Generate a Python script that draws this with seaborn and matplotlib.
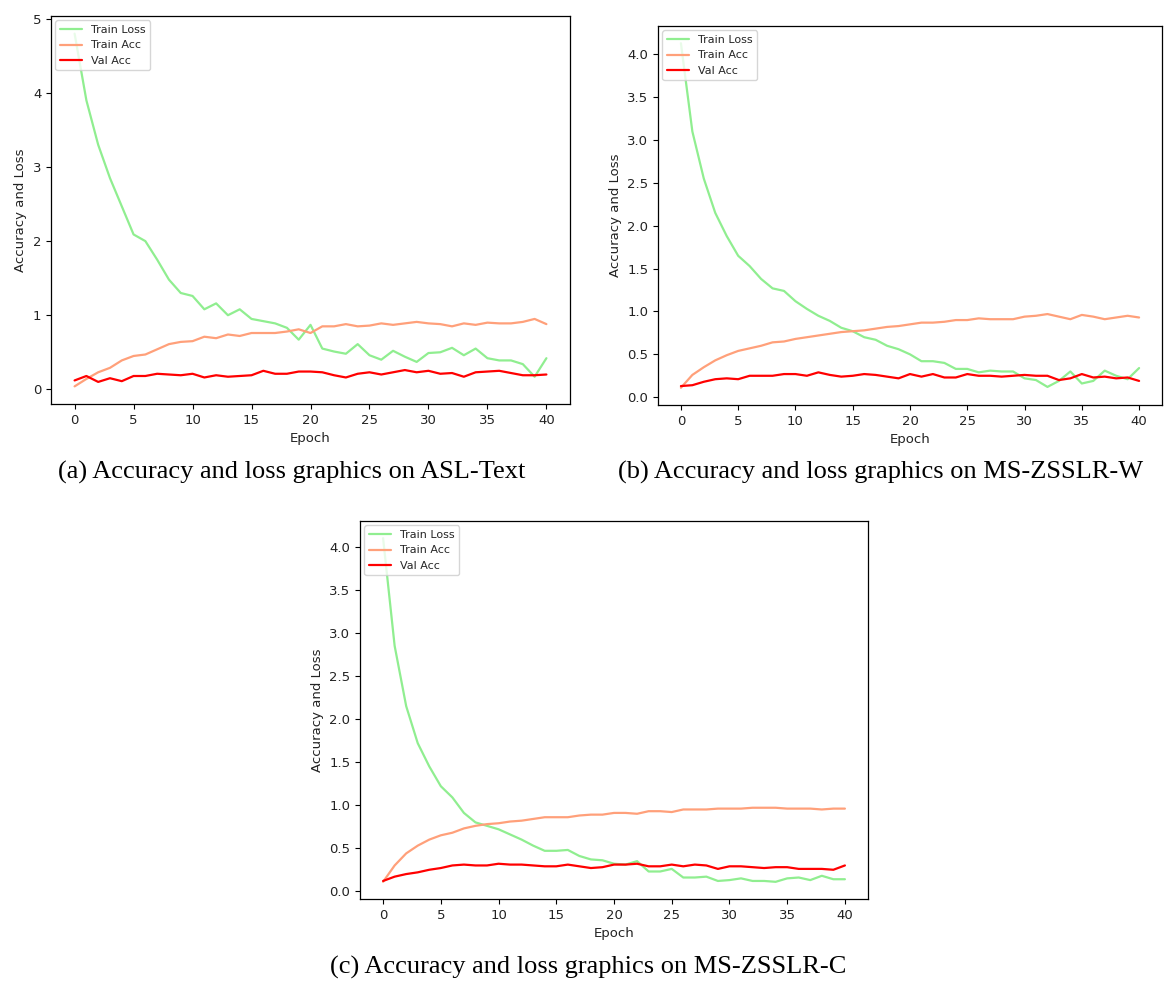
import numpy as np
import matplotlib
matplotlib.use("Agg")
import matplotlib.pyplot as plt
import seaborn as sns

epochs = list(range(41))

# (a) ASL-Text
asl_train_loss = [4.80, 3.90, 3.30, 2.85, 2.47, 2.09, 2.00, 1.75, 1.48, 1.30, 1.26,
                  1.08, 1.16, 1.00, 1.08, 0.95, 0.92, 0.89, 0.83, 0.67, 0.87,
                  0.55, 0.51, 0.48, 0.61, 0.46, 0.40, 0.52, 0.44, 0.37, 0.49,
                  0.50, 0.56, 0.46, 0.55, 0.42, 0.39, 0.39, 0.34, 0.17, 0.42]
asl_train_acc = [0.04, 0.14, 0.23, 0.29, 0.39, 0.45, 0.47, 0.54, 0.61, 0.64, 0.65,
                 0.71, 0.69, 0.74, 0.72, 0.76, 0.76, 0.76, 0.78, 0.81, 0.76,
                 0.85, 0.85, 0.88, 0.85, 0.86, 0.89, 0.87, 0.89, 0.91, 0.89,
                 0.88, 0.85, 0.89, 0.87, 0.90, 0.89, 0.89, 0.91, 0.95, 0.88]
asl_val_acc = [0.12, 0.18, 0.10, 0.15, 0.11, 0.18, 0.18, 0.21, 0.20, 0.19, 0.21,
               0.16, 0.19, 0.17, 0.18, 0.19, 0.25, 0.21, 0.21, 0.24, 0.24,
               0.23, 0.19, 0.16, 0.21, 0.23, 0.20, 0.23, 0.26, 0.23, 0.25,
               0.21, 0.22, 0.17, 0.23, 0.24, 0.25, 0.22, 0.19, 0.19, 0.20]

# (b) MS-ZSSLR-W
msw_train_loss = [4.13, 3.10, 2.55, 2.15, 1.88, 1.65, 1.53, 1.38, 1.27, 1.24, 1.12,
                  1.03, 0.95, 0.89, 0.81, 0.77, 0.70, 0.67, 0.60, 0.56, 0.50,
                  0.42, 0.42, 0.40, 0.33, 0.33, 0.29, 0.31, 0.30, 0.30, 0.22,
                  0.20, 0.12, 0.19, 0.30, 0.16, 0.19, 0.31, 0.25, 0.21, 0.34]
msw_train_acc = [0.11, 0.26, 0.35, 0.43, 0.49, 0.54, 0.57, 0.60, 0.64, 0.65, 0.68,
                 0.70, 0.72, 0.74, 0.76, 0.77, 0.78, 0.80, 0.82, 0.83, 0.85,
                 0.87, 0.87, 0.88, 0.90, 0.90, 0.92, 0.91, 0.91, 0.91, 0.94,
                 0.95, 0.97, 0.94, 0.91, 0.96, 0.94, 0.91, 0.93, 0.95, 0.93]
msw_val_acc = [0.13, 0.14, 0.18, 0.21, 0.22, 0.21, 0.25, 0.25, 0.25, 0.27, 0.27,
               0.25, 0.29, 0.26, 0.24, 0.25, 0.27, 0.26, 0.24, 0.22, 0.27,
               0.24, 0.27, 0.23, 0.23, 0.27, 0.25, 0.25, 0.24, 0.25, 0.26,
               0.25, 0.25, 0.20, 0.22, 0.27, 0.23, 0.24, 0.22, 0.23, 0.19]

# (c) MS-ZSSLR-C
msc_train_loss = [4.10, 2.85, 2.15, 1.72, 1.45, 1.22, 1.09, 0.91, 0.80, 0.76, 0.72,
                  0.66, 0.60, 0.53, 0.47, 0.47, 0.48, 0.41, 0.37, 0.36, 0.32,
                  0.31, 0.35, 0.23, 0.23, 0.26, 0.16, 0.16, 0.17, 0.12, 0.13,
                  0.15, 0.12, 0.12, 0.11, 0.15, 0.16, 0.13, 0.18, 0.14, 0.14]
msc_train_acc = [0.11, 0.30, 0.44, 0.53, 0.60, 0.65, 0.68, 0.73, 0.76, 0.78, 0.79,
                 0.81, 0.82, 0.84, 0.86, 0.86, 0.86, 0.88, 0.89, 0.89, 0.91,
                 0.91, 0.90, 0.93, 0.93, 0.92, 0.95, 0.95, 0.95, 0.96, 0.96,
                 0.96, 0.97, 0.97, 0.97, 0.96, 0.96, 0.96, 0.95, 0.96, 0.96]
msc_val_acc = [0.12, 0.17, 0.20, 0.22, 0.25, 0.27, 0.30, 0.31, 0.30, 0.30, 0.32,
               0.31, 0.31, 0.30, 0.29, 0.29, 0.31, 0.29, 0.27, 0.28, 0.31,
               0.31, 0.32, 0.29, 0.29, 0.31, 0.29, 0.31, 0.30, 0.26, 0.29,
               0.29, 0.28, 0.27, 0.28, 0.28, 0.26, 0.26, 0.26, 0.25, 0.30]

captions = ["(a) Accuracy and loss graphics on ASL-Text",
            "(b) Accuracy and loss graphics on MS-ZSSLR-W",
            "(c) Accuracy and loss graphics on MS-ZSSLR-C"]

sns.set_style("ticks")
plt.rcParams['font.family'] = ['DejaVu Sans']

W, H = 1164, 981
fig = plt.figure(figsize=(W / 100, H / 100), dpi=100)


def box(left, top, right, bottom):
    return [left / W, 1 - bottom / H, (right - left) / W, (bottom - top) / H]


panels = [
    (box(51, 16, 570, 404), asl_train_loss, asl_train_acc, asl_val_acc, (292, 472)),
    (box(658, 26, 1162, 405), msw_train_loss, msw_train_acc, msw_val_acc, (881, 472)),
    (box(360, 521, 868, 899), msc_train_loss, msc_train_acc, msc_val_acc, (588, 967)),
]

for (rect, loss, tacc, vacc, cap_pos), cap in zip(panels, captions):
    ax = fig.add_axes(rect)
    sns.lineplot(x=epochs, y=loss, ax=ax, color="lightgreen", linewidth=1.6, label="Train Loss")
    sns.lineplot(x=epochs, y=tacc, ax=ax, color="lightsalmon", linewidth=1.6, label="Train Acc")
    sns.lineplot(x=epochs, y=vacc, ax=ax, color="red", linewidth=1.6, label="Val Acc")
    ax.set_xlabel("Epoch", fontsize=9.5, color="#222222")
    ax.set_ylabel("Accuracy and Loss", fontsize=9.5, color="#222222")
    ax.set_xticks([0, 5, 10, 15, 20, 25, 30, 35, 40])
    ax.tick_params(labelsize=9.5, colors="black", labelcolor="#222222")
    for s in ax.spines.values():
        s.set_color("black")
        s.set_linewidth(0.9)
    ax.legend(loc="upper left", fontsize=8, frameon=True, borderaxespad=0.4)
    fig.text(cap_pos[0] / W, 1 - cap_pos[1] / H, cap, ha="center", va="center",
             fontsize=19, color="black", family=["Liberation Serif"])

plt.savefig("out.png", dpi=100)
